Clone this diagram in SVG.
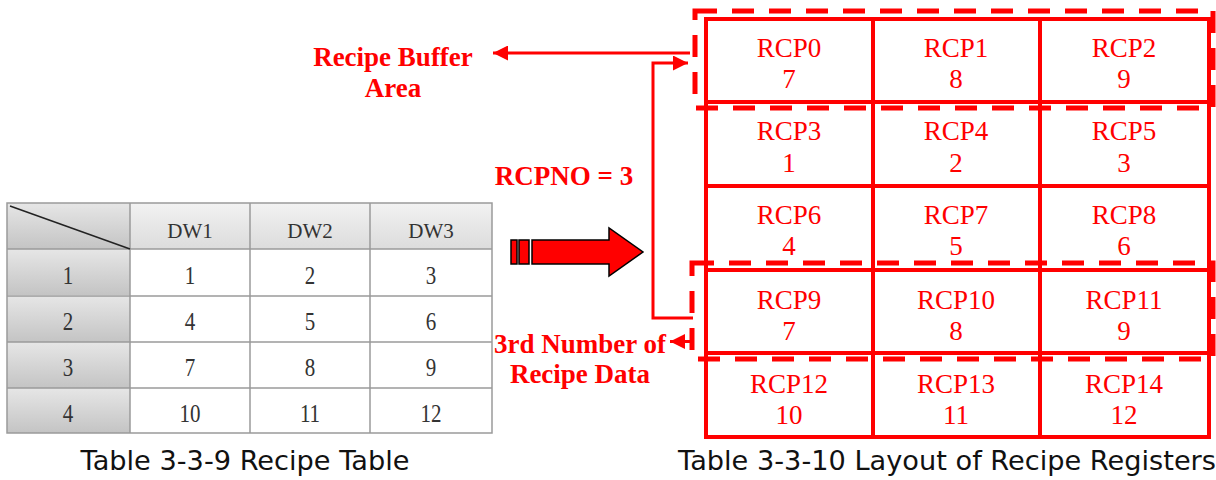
<svg xmlns="http://www.w3.org/2000/svg" width="1216" height="480" viewBox="0 0 1216 480">
<defs>
<linearGradient id="hg" x1="0" y1="0" x2="0" y2="1"><stop offset="0" stop-color="#f2f2f2"/><stop offset="1" stop-color="#dcdcdc"/></linearGradient>
<linearGradient id="rg" x1="0" y1="0" x2="0" y2="1"><stop offset="0" stop-color="#e6e6e6"/><stop offset="1" stop-color="#c4c4c4"/></linearGradient>
<marker id="ah" viewBox="0 0 10 10" refX="10" refY="5" markerWidth="5.3" markerHeight="5" orient="auto" markerUnits="strokeWidth"><path d="M0,0 L10,5 L0,10 Z" fill="#ff0000"/></marker>
</defs>
<style>
.tt{font-family:"Liberation Serif","Times New Roman",serif;font-size:21px;fill:#333333;text-anchor:middle}
.gl{stroke:#9a9a9a;stroke-width:1.5;fill:none}
.rc{font-family:"Liberation Serif","Times New Roman",serif;font-size:27px;fill:#ff0000;text-anchor:middle}
.lb{font-family:"Liberation Serif","Times New Roman",serif;font-size:27px;font-weight:bold;fill:#ff0000;text-anchor:middle}
.cap{font-family:"DejaVu Sans",sans-serif;font-size:27.2px;fill:#111;text-anchor:middle}
.grid{stroke:#ff0000;stroke-width:4;fill:none}
.dash{stroke:#ff0000;stroke-width:5;fill:none;stroke-dasharray:22 15}
.con{stroke:#ff0000;stroke-width:3;fill:none}
</style>
<rect width="1216" height="480" fill="#ffffff"/>

<g id="recipe-table">
<rect x="7" y="203" width="123" height="46" fill="url(#rg)"/>
<rect x="130" y="203" width="362" height="46" fill="url(#hg)"/>
<rect x="7" y="249" width="123" height="46" fill="url(#rg)"/>
<rect x="7" y="296" width="123" height="46" fill="url(#rg)"/>
<rect x="7" y="342" width="123" height="46" fill="url(#rg)"/>
<rect x="7" y="388" width="123" height="45" fill="url(#rg)"/>
<rect x="7" y="203" width="485" height="230" class="gl"/>
<path class="gl" d="M130,203V433 M250,203V433 M370,203V433 M7,249H492 M7,296H492 M7,342H492 M7,388H492"/>
<path d="M10,206 L130,249" stroke="#222" stroke-width="1.5"/>
<text class="tt" x="190" y="238">DW1</text><text class="tt" x="310" y="238">DW2</text><text class="tt" x="431" y="238">DW3</text>
<text class="tt" transform="matrix(1 0 0 1.22 68 284)">1</text><text class="tt" transform="matrix(1 0 0 1.22 190 284)">1</text><text class="tt" transform="matrix(1 0 0 1.22 310 284)">2</text><text class="tt" transform="matrix(1 0 0 1.22 431 284)">3</text>
<text class="tt" transform="matrix(1 0 0 1.22 68 330)">2</text><text class="tt" transform="matrix(1 0 0 1.22 190 330)">4</text><text class="tt" transform="matrix(1 0 0 1.22 310 330)">5</text><text class="tt" transform="matrix(1 0 0 1.22 431 330)">6</text>
<text class="tt" transform="matrix(1 0 0 1.22 68 376)">3</text><text class="tt" transform="matrix(1 0 0 1.22 190 376)">7</text><text class="tt" transform="matrix(1 0 0 1.22 310 376)">8</text><text class="tt" transform="matrix(1 0 0 1.22 431 376)">9</text>
<text class="tt" transform="matrix(1 0 0 1.22 68 422)">4</text><text class="tt" transform="matrix(1 0 0 1.22 190 422)">10</text><text class="tt" transform="matrix(1 0 0 1.22 310 422)">11</text><text class="tt" transform="matrix(1 0 0 1.22 431 422)">12</text>
</g>

<g id="block-arrow">
<rect x="511" y="240" width="6" height="24" fill="#ff0000" stroke="#000" stroke-width="1.5"/>
<rect x="519" y="240" width="10" height="24" fill="#ff0000" stroke="#000" stroke-width="1.5"/>
<polygon points="532,240 609,240 609,228 643,252 609,276 609,264 532,264" fill="#ff0000" stroke="#000" stroke-width="1.5"/>
</g>

<g id="registers">
<rect x="706" y="19" width="503" height="418" class="grid"/>
<path class="grid" d="M873,19V437 M1040,19V437 M706,102H1209 M706,186H1209 M706,270H1209 M706,353H1209"/>
<text class="rc" x="789" y="57">RCP0</text><text class="rc" x="789" y="88">7</text>
<text class="rc" x="956" y="57">RCP1</text><text class="rc" x="956" y="88">8</text>
<text class="rc" x="1124" y="57">RCP2</text><text class="rc" x="1124" y="88">9</text>
<text class="rc" x="789" y="140">RCP3</text><text class="rc" x="789" y="172">1</text>
<text class="rc" x="956" y="140">RCP4</text><text class="rc" x="956" y="172">2</text>
<text class="rc" x="1124" y="140">RCP5</text><text class="rc" x="1124" y="172">3</text>
<text class="rc" x="789" y="224">RCP6</text><text class="rc" x="789" y="255">4</text>
<text class="rc" x="956" y="224">RCP7</text><text class="rc" x="956" y="255">5</text>
<text class="rc" x="1124" y="224">RCP8</text><text class="rc" x="1124" y="255">6</text>
<text class="rc" x="789" y="309">RCP9</text><text class="rc" x="789" y="340">7</text>
<text class="rc" x="956" y="309">RCP10</text><text class="rc" x="956" y="340">8</text>
<text class="rc" x="1124" y="309">RCP11</text><text class="rc" x="1124" y="340">9</text>
<text class="rc" x="789" y="393">RCP12</text><text class="rc" x="789" y="424">10</text>
<text class="rc" x="956" y="393">RCP13</text><text class="rc" x="956" y="424">11</text>
<text class="rc" x="1124" y="393">RCP14</text><text class="rc" x="1124" y="424">12</text>
</g>

<g id="buffer-area">
<rect x="695" y="11" width="518" height="97" class="dash"/>
</g>
<g id="third-data">
<rect x="692" y="263" width="521" height="96" class="dash"/>
</g>

<g id="labels">
<text class="lb" x="393" y="66">Recipe Buffer</text>
<text class="lb" x="393" y="97">Area</text>
<text class="lb" x="564" y="185">RCPNO = 3</text>
<text class="lb" x="580" y="353">3rd Number of</text>
<text class="lb" x="580" y="383">Recipe Data</text>
</g>

<g id="connectors">
<path class="con" d="M690,53 H493" marker-end="url(#ah)"/>
<path class="con" d="M693,318 H653 V63 H688" marker-end="url(#ah)"/>
<path class="con" d="M692,341.5 H670" marker-end="url(#ah)"/>
</g>

<g id="captions">
<text class="cap" x="245" y="470">Table 3-3-9 Recipe Table</text>
<text class="cap" x="947" y="470">Table 3-3-10 Layout of Recipe Registers</text>
</g>
</svg>
